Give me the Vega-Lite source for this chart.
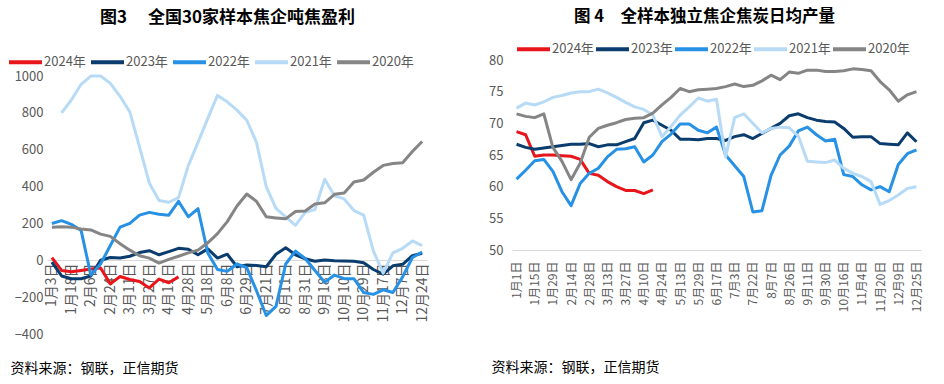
{
  "$schema": "https://vega.github.io/schema/vega-lite/v6.json",
  "background": "white",
  "padding": {"left": 7, "top": 8, "right": 5, "bottom": 2},
  "spacing": 58,
  "config": {
    "font": "Noto Sans CJK SC",
    "view": {"stroke": null},
    "axis": {"labelFont": "Noto Sans CJK SC", "titleFont": "Noto Sans CJK SC", "labelColor": "#595959"},
    "legend": {"labelFont": "Noto Sans CJK SC"},
    "title": {"font": "Noto Sans CJK SC"}
  },
  "datasets": {
    "left": [
      {"d":"1月3日","s":"2024年","v":15},{"d":"1月10日","s":"2024年","v":-55},{"d":"1月18日","s":"2024年","v":-62},{"d":"1月27日","s":"2024年","v":-55},{"d":"2月6日","s":"2024年","v":-47},{"d":"2月15日","s":"2024年","v":-42},{"d":"2月24日","s":"2024年","v":-128},{"d":"3月3日","s":"2024年","v":-88},{"d":"3月11日","s":"2024年","v":-104},{"d":"3月19日","s":"2024年","v":-115},{"d":"3月27日","s":"2024年","v":-150},{"d":"4月3日","s":"2024年","v":-102},{"d":"4月11日","s":"2024年","v":-122},{"d":"4月20日","s":"2024年","v":-90},

      {"d":"1月3日","s":"2023年","v":-10},{"d":"1月10日","s":"2023年","v":-85},{"d":"1月18日","s":"2023年","v":-100},{"d":"1月27日","s":"2023年","v":-100},{"d":"2月6日","s":"2023年","v":-85},{"d":"2月15日","s":"2023年","v":0},{"d":"2月24日","s":"2023年","v":15},{"d":"3月3日","s":"2023年","v":12},{"d":"3月11日","s":"2023年","v":22},{"d":"3月19日","s":"2023年","v":42},{"d":"3月27日","s":"2023年","v":52},{"d":"4月3日","s":"2023年","v":30},{"d":"4月11日","s":"2023年","v":47},{"d":"4月20日","s":"2023年","v":65},{"d":"4月28日","s":"2023年","v":60},{"d":"5月8日","s":"2023年","v":30},{"d":"5月18日","s":"2023年","v":62},{"d":"5月28日","s":"2023年","v":12},{"d":"6月8日","s":"2023年","v":33},{"d":"6月18日","s":"2023年","v":-35},{"d":"6月29日","s":"2023年","v":-25},{"d":"7月10日","s":"2023年","v":-28},{"d":"7月21日","s":"2023年","v":-35},{"d":"8月1日","s":"2023年","v":33},{"d":"8月11日","s":"2023年","v":68},{"d":"8月21日","s":"2023年","v":30},{"d":"8月31日","s":"2023年","v":8},{"d":"9月9日","s":"2023年","v":-5},{"d":"9月18日","s":"2023年","v":2},{"d":"9月29日","s":"2023年","v":-3},{"d":"10月10日","s":"2023年","v":-4},{"d":"10月19日","s":"2023年","v":-5},{"d":"10月29日","s":"2023年","v":-13},{"d":"11月8日","s":"2023年","v":-50},{"d":"11月17日","s":"2023年","v":-75},{"d":"11月27日","s":"2023年","v":-30},{"d":"12月7日","s":"2023年","v":-22},{"d":"12月15日","s":"2023年","v":25},{"d":"12月24日","s":"2023年","v":38},

      {"d":"1月3日","s":"2022年","v":200},{"d":"1月10日","s":"2022年","v":215},{"d":"1月18日","s":"2022年","v":195},{"d":"1月27日","s":"2022年","v":162},{"d":"2月6日","s":"2022年","v":-80},{"d":"2月15日","s":"2022年","v":-20},{"d":"2月24日","s":"2022年","v":80},{"d":"3月3日","s":"2022年","v":180},{"d":"3月11日","s":"2022年","v":200},{"d":"3月19日","s":"2022年","v":245},{"d":"3月27日","s":"2022年","v":260},{"d":"4月3日","s":"2022年","v":250},{"d":"4月11日","s":"2022年","v":245},{"d":"4月20日","s":"2022年","v":320},{"d":"4月28日","s":"2022年","v":236},{"d":"5月8日","s":"2022年","v":280},{"d":"5月18日","s":"2022年","v":40},{"d":"5月28日","s":"2022年","v":-50},{"d":"6月8日","s":"2022年","v":-60},{"d":"6月18日","s":"2022年","v":-20},{"d":"6月29日","s":"2022年","v":-40},{"d":"7月10日","s":"2022年","v":-165},{"d":"7月21日","s":"2022年","v":-300},{"d":"8月1日","s":"2022年","v":-250},{"d":"8月11日","s":"2022年","v":-20},{"d":"8月21日","s":"2022年","v":50},{"d":"8月31日","s":"2022年","v":10},{"d":"9月9日","s":"2022年","v":-55},{"d":"9月18日","s":"2022年","v":-120},{"d":"9月29日","s":"2022年","v":-80},{"d":"10月10日","s":"2022年","v":-100},{"d":"10月19日","s":"2022年","v":-100},{"d":"10月29日","s":"2022年","v":-175},{"d":"11月8日","s":"2022年","v":-185},{"d":"11月17日","s":"2022年","v":-160},{"d":"11月27日","s":"2022年","v":-175},{"d":"12月7日","s":"2022年","v":-90},{"d":"12月15日","s":"2022年","v":15},{"d":"12月24日","s":"2022年","v":45},

      {"d":"1月10日","s":"2021年","v":800},{"d":"1月18日","s":"2021年","v":870},{"d":"1月27日","s":"2021年","v":955},{"d":"2月6日","s":"2021年","v":1000},{"d":"2月15日","s":"2021年","v":1000},{"d":"2月24日","s":"2021年","v":960},{"d":"3月3日","s":"2021年","v":890},{"d":"3月11日","s":"2021年","v":805},{"d":"3月19日","s":"2021年","v":614},{"d":"3月27日","s":"2021年","v":420},{"d":"4月3日","s":"2021年","v":325},{"d":"4月11日","s":"2021年","v":315},{"d":"4月20日","s":"2021年","v":340},{"d":"4月28日","s":"2021年","v":514},{"d":"5月8日","s":"2021年","v":640},{"d":"5月18日","s":"2021年","v":770},{"d":"5月28日","s":"2021年","v":895},{"d":"6月8日","s":"2021年","v":860},{"d":"6月18日","s":"2021年","v":815},{"d":"6月29日","s":"2021年","v":760},{"d":"7月10日","s":"2021年","v":640},{"d":"7月21日","s":"2021年","v":400},{"d":"8月1日","s":"2021年","v":282},{"d":"8月11日","s":"2021年","v":235},{"d":"8月21日","s":"2021年","v":190},{"d":"8月31日","s":"2021年","v":260},{"d":"9月9日","s":"2021年","v":275},{"d":"9月18日","s":"2021年","v":440},{"d":"9月29日","s":"2021年","v":350},{"d":"10月10日","s":"2021年","v":333},{"d":"10月19日","s":"2021年","v":270},{"d":"10月29日","s":"2021年","v":245},{"d":"11月8日","s":"2021年","v":50},{"d":"11月17日","s":"2021年","v":-70},{"d":"11月27日","s":"2021年","v":40},{"d":"12月7日","s":"2021年","v":65},{"d":"12月15日","s":"2021年","v":105},{"d":"12月24日","s":"2021年","v":80},

      {"d":"1月3日","s":"2020年","v":180},{"d":"1月10日","s":"2020年","v":182},{"d":"1月18日","s":"2020年","v":180},{"d":"1月27日","s":"2020年","v":170},{"d":"2月6日","s":"2020年","v":165},{"d":"2月15日","s":"2020年","v":142},{"d":"2月24日","s":"2020年","v":130},{"d":"3月3日","s":"2020年","v":90},{"d":"3月11日","s":"2020年","v":55},{"d":"3月19日","s":"2020年","v":25},{"d":"3月27日","s":"2020年","v":12},{"d":"4月3日","s":"2020年","v":-15},{"d":"4月11日","s":"2020年","v":5},{"d":"4月20日","s":"2020年","v":22},{"d":"4月28日","s":"2020年","v":40},{"d":"5月8日","s":"2020年","v":55},{"d":"5月18日","s":"2020年","v":95},{"d":"5月28日","s":"2020年","v":145},{"d":"6月8日","s":"2020年","v":210},{"d":"6月18日","s":"2020年","v":295},{"d":"6月29日","s":"2020年","v":360},{"d":"7月10日","s":"2020年","v":320},{"d":"7月21日","s":"2020年","v":236},{"d":"8月1日","s":"2020年","v":230},{"d":"8月11日","s":"2020年","v":225},{"d":"8月21日","s":"2020年","v":265},{"d":"8月31日","s":"2020年","v":268},{"d":"9月9日","s":"2020年","v":305},{"d":"9月18日","s":"2020年","v":312},{"d":"9月29日","s":"2020年","v":358},{"d":"10月10日","s":"2020年","v":365},{"d":"10月19日","s":"2020年","v":425},{"d":"10月29日","s":"2020年","v":436},{"d":"11月8日","s":"2020年","v":478},{"d":"11月17日","s":"2020年","v":515},{"d":"11月27日","s":"2020年","v":525},{"d":"12月7日","s":"2020年","v":530},{"d":"12月15日","s":"2020年","v":590},{"d":"12月24日","s":"2020年","v":645}
    ],
    "right": [
      {"d":"1月1日","s":"2024年","v":68.7},{"d":"1月8日","s":"2024年","v":68.2},{"d":"1月15日","s":"2024年","v":64.8},{"d":"1月22日","s":"2024年","v":65.0},{"d":"1月29日","s":"2024年","v":65.0},{"d":"2月7日","s":"2024年","v":64.9},{"d":"2月14日","s":"2024年","v":64.8},{"d":"2月21日","s":"2024年","v":64.3},{"d":"2月28日","s":"2024年","v":62.1},{"d":"3月6日","s":"2024年","v":61.8},{"d":"3月13日","s":"2024年","v":60.8},{"d":"3月20日","s":"2024年","v":60.0},{"d":"3月27日","s":"2024年","v":59.4},{"d":"4月3日","s":"2024年","v":59.4},{"d":"4月10日","s":"2024年","v":58.9},{"d":"4月17日","s":"2024年","v":59.5},

      {"d":"1月1日","s":"2023年","v":66.7},{"d":"1月8日","s":"2023年","v":66.2},{"d":"1月15日","s":"2023年","v":65.9},{"d":"1月22日","s":"2023年","v":66.1},{"d":"1月29日","s":"2023年","v":66.3},{"d":"2月7日","s":"2023年","v":66.5},{"d":"2月14日","s":"2023年","v":66.7},{"d":"2月21日","s":"2023年","v":66.7},{"d":"2月28日","s":"2023年","v":66.8},{"d":"3月6日","s":"2023年","v":66.3},{"d":"3月13日","s":"2023年","v":66.6},{"d":"3月20日","s":"2023年","v":66.6},{"d":"3月27日","s":"2023年","v":67.1},{"d":"4月3日","s":"2023年","v":67.6},{"d":"4月10日","s":"2023年","v":70.1},{"d":"4月17日","s":"2023年","v":70.5},{"d":"4月24日","s":"2023年","v":69.7},{"d":"5月6日","s":"2023年","v":68.9},{"d":"5月13日","s":"2023年","v":67.5},{"d":"5月21日","s":"2023年","v":67.5},{"d":"5月29日","s":"2023年","v":67.4},{"d":"6月8日","s":"2023年","v":67.6},{"d":"6月17日","s":"2023年","v":67.6},{"d":"6月25日","s":"2023年","v":67.3},{"d":"7月3日","s":"2023年","v":67.9},{"d":"7月12日","s":"2023年","v":68.2},{"d":"7月22日","s":"2023年","v":67.6},{"d":"7月30日","s":"2023年","v":68.4},{"d":"8月7日","s":"2023年","v":69.2},{"d":"8月16日","s":"2023年","v":70.0},{"d":"8月26日","s":"2023年","v":71.2},{"d":"9月3日","s":"2023年","v":71.5},{"d":"9月11日","s":"2023年","v":70.9},{"d":"9月21日","s":"2023年","v":70.5},{"d":"9月30日","s":"2023年","v":70.3},{"d":"10月8日","s":"2023年","v":70.2},{"d":"10月16日","s":"2023年","v":69.2},{"d":"10月26日","s":"2023年","v":67.8},{"d":"11月4日","s":"2023年","v":67.9},{"d":"11月12日","s":"2023年","v":67.9},{"d":"11月20日","s":"2023年","v":66.8},{"d":"11月30日","s":"2023年","v":66.7},{"d":"12月9日","s":"2023年","v":66.6},{"d":"12月17日","s":"2023年","v":68.5},{"d":"12月25日","s":"2023年","v":67.1},

      {"d":"1月1日","s":"2022年","v":61.2},{"d":"1月8日","s":"2022年","v":62.6},{"d":"1月15日","s":"2022年","v":64.1},{"d":"1月22日","s":"2022年","v":64.3},{"d":"1月29日","s":"2022年","v":62.4},{"d":"2月7日","s":"2022年","v":59.2},{"d":"2月14日","s":"2022年","v":57.0},{"d":"2月21日","s":"2022年","v":60.5},{"d":"2月28日","s":"2022年","v":62.1},{"d":"3月6日","s":"2022年","v":62.9},{"d":"3月13日","s":"2022年","v":64.7},{"d":"3月20日","s":"2022年","v":65.9},{"d":"3月27日","s":"2022年","v":66.0},{"d":"4月3日","s":"2022年","v":66.3},{"d":"4月10日","s":"2022年","v":63.9},{"d":"4月17日","s":"2022年","v":65.0},{"d":"4月24日","s":"2022年","v":67.1},{"d":"5月6日","s":"2022年","v":68.3},{"d":"5月13日","s":"2022年","v":69.9},{"d":"5月21日","s":"2022年","v":69.9},{"d":"5月29日","s":"2022年","v":68.9},{"d":"6月8日","s":"2022年","v":68.5},{"d":"6月17日","s":"2022年","v":69.4},{"d":"6月25日","s":"2022年","v":65.0},{"d":"7月3日","s":"2022年","v":63.3},{"d":"7月12日","s":"2022年","v":61.6},{"d":"7月22日","s":"2022年","v":56.0},{"d":"7月30日","s":"2022年","v":56.2},{"d":"8月7日","s":"2022年","v":61.8},{"d":"8月16日","s":"2022年","v":65.0},{"d":"8月26日","s":"2022年","v":66.4},{"d":"9月3日","s":"2022年","v":68.8},{"d":"9月11日","s":"2022年","v":69.4},{"d":"9月21日","s":"2022年","v":68.2},{"d":"9月30日","s":"2022年","v":67.2},{"d":"10月8日","s":"2022年","v":67.5},{"d":"10月16日","s":"2022年","v":61.9},{"d":"10月26日","s":"2022年","v":61.6},{"d":"11月4日","s":"2022年","v":60.3},{"d":"11月12日","s":"2022年","v":59.5},{"d":"11月20日","s":"2022年","v":60.0},{"d":"11月30日","s":"2022年","v":59.2},{"d":"12月9日","s":"2022年","v":63.5},{"d":"12月17日","s":"2022年","v":65.2},{"d":"12月25日","s":"2022年","v":65.8},

      {"d":"1月1日","s":"2021年","v":72.4},{"d":"1月8日","s":"2021年","v":73.2},{"d":"1月15日","s":"2021年","v":72.9},{"d":"1月22日","s":"2021年","v":73.4},{"d":"1月29日","s":"2021年","v":74.1},{"d":"2月7日","s":"2021年","v":74.4},{"d":"2月14日","s":"2021年","v":74.8},{"d":"2月21日","s":"2021年","v":75.0},{"d":"2月28日","s":"2021年","v":75.0},{"d":"3月6日","s":"2021年","v":75.4},{"d":"3月13日","s":"2021年","v":74.8},{"d":"3月20日","s":"2021年","v":74.1},{"d":"3月27日","s":"2021年","v":73.3},{"d":"4月3日","s":"2021年","v":72.6},{"d":"4月10日","s":"2021年","v":72.2},{"d":"4月17日","s":"2021年","v":71.3},{"d":"4月24日","s":"2021年","v":67.9},{"d":"5月6日","s":"2021年","v":69.5},{"d":"5月13日","s":"2021年","v":71.3},{"d":"5月21日","s":"2021年","v":72.6},{"d":"5月29日","s":"2021年","v":74.0},{"d":"6月8日","s":"2021年","v":73.5},{"d":"6月17日","s":"2021年","v":73.8},{"d":"6月25日","s":"2021年","v":64.7},{"d":"7月3日","s":"2021年","v":70.9},{"d":"7月12日","s":"2021年","v":71.5},{"d":"7月22日","s":"2021年","v":70.0},{"d":"7月30日","s":"2021年","v":68.5},{"d":"8月7日","s":"2021年","v":69.2},{"d":"8月16日","s":"2021年","v":69.4},{"d":"8月26日","s":"2021年","v":69.3},{"d":"9月3日","s":"2021年","v":68.0},{"d":"9月11日","s":"2021年","v":64.0},{"d":"9月21日","s":"2021年","v":63.9},{"d":"9月30日","s":"2021年","v":63.8},{"d":"10月8日","s":"2021年","v":64.2},{"d":"10月16日","s":"2021年","v":62.9},{"d":"10月26日","s":"2021年","v":62.1},{"d":"11月4日","s":"2021年","v":61.6},{"d":"11月12日","s":"2021年","v":60.8},{"d":"11月20日","s":"2021年","v":57.2},{"d":"11月30日","s":"2021年","v":57.8},{"d":"12月9日","s":"2021年","v":58.7},{"d":"12月17日","s":"2021年","v":59.7},{"d":"12月25日","s":"2021年","v":60.0},

      {"d":"1月1日","s":"2020年","v":71.5},{"d":"1月8日","s":"2020年","v":71.1},{"d":"1月15日","s":"2020年","v":70.9},{"d":"1月22日","s":"2020年","v":71.5},{"d":"1月29日","s":"2020年","v":66.2},{"d":"2月7日","s":"2020年","v":64.0},{"d":"2月14日","s":"2020年","v":61.1},{"d":"2月21日","s":"2020年","v":63.7},{"d":"2月28日","s":"2020年","v":67.8},{"d":"3月6日","s":"2020年","v":69.2},{"d":"3月13日","s":"2020年","v":69.7},{"d":"3月20日","s":"2020年","v":70.1},{"d":"3月27日","s":"2020年","v":70.6},{"d":"4月3日","s":"2020年","v":70.8},{"d":"4月10日","s":"2020年","v":70.9},{"d":"4月17日","s":"2020年","v":71.6},{"d":"4月24日","s":"2020年","v":72.9},{"d":"5月6日","s":"2020年","v":74.1},{"d":"5月13日","s":"2020年","v":75.5},{"d":"5月21日","s":"2020年","v":75.0},{"d":"5月29日","s":"2020年","v":75.3},{"d":"6月8日","s":"2020年","v":75.4},{"d":"6月17日","s":"2020年","v":75.5},{"d":"6月25日","s":"2020年","v":75.8},{"d":"7月3日","s":"2020年","v":76.2},{"d":"7月12日","s":"2020年","v":75.8},{"d":"7月22日","s":"2020年","v":76.0},{"d":"7月30日","s":"2020年","v":76.7},{"d":"8月7日","s":"2020年","v":77.6},{"d":"8月16日","s":"2020年","v":76.9},{"d":"8月26日","s":"2020年","v":78.1},{"d":"9月3日","s":"2020年","v":77.9},{"d":"9月11日","s":"2020年","v":78.4},{"d":"9月21日","s":"2020年","v":78.4},{"d":"9月30日","s":"2020年","v":78.2},{"d":"10月8日","s":"2020年","v":78.2},{"d":"10月16日","s":"2020年","v":78.3},{"d":"10月26日","s":"2020年","v":78.6},{"d":"11月4日","s":"2020年","v":78.5},{"d":"11月12日","s":"2020年","v":78.3},{"d":"11月20日","s":"2020年","v":76.6},{"d":"11月30日","s":"2020年","v":75.3},{"d":"12月9日","s":"2020年","v":73.5},{"d":"12月17日","s":"2020年","v":74.5},{"d":"12月25日","s":"2020年","v":75.0}
    ]
  },
  "hconcat": [
    {
      "width": 380,
      "height": 274,
      "data": {"name": "left"},
      "title": {"text": "图3　 全国30家样本焦企吨焦盈利", "fontSize": 17, "fontWeight": "bold", "color": "black", "anchor": "start", "frame": "group", "dx": 53, "offset": 17},
      "mark": {"type": "line", "strokeWidth": 3, "strokeJoin": "round"},
      "encoding": {
        "x": {
          "field": "d", "type": "ordinal",
          "scale": {"type": "point", "padding": 0.5, "domain": ["1月3日","1月10日","1月18日","1月27日","2月6日","2月15日","2月24日","3月3日","3月11日","3月19日","3月27日","4月3日","4月11日","4月20日","4月28日","5月8日","5月18日","5月28日","6月8日","6月18日","6月29日","7月10日","7月21日","8月1日","8月11日","8月21日","8月31日","9月9日","9月18日","9月29日","10月10日","10月19日","10月29日","11月8日","11月17日","11月27日","12月7日","12月15日","12月24日"]},
          "axis": {
            "values": ["1月3日","1月18日","2月6日","2月24日","3月11日","3月27日","4月11日","4月28日","5月18日","6月8日","6月29日","7月21日","8月11日","8月31日","9月18日","10月10日","10月29日","11月17日","12月7日","12月24日"],
            "labelAngle": -90, "labelFontSize": 14, "labelPadding": 3, "labelOverlap": false,
            "offset": -74, "ticks": false, "grid": false,
            "domainColor": "#d9d9d9", "domainWidth": 1,
            "title": "资料来源：钢联，正信期货", "titleFontSize": 14, "titleFontWeight": "normal", "titleColor": "black",
            "titleAlign": "left", "titleAnchor": "start", "titleBaseline": "middle", "titleX": -37, "titleY": 108
          }
        },
        "y": {
          "field": "v", "type": "quantitative",
          "scale": {"domain": [-400, 1087], "nice": false, "zero": false},
          "axis": {"values": [-400,-200,0,200,400,600,800,1000], "format": "d", "grid": false, "domain": false, "ticks": false, "labelFontSize": 13, "labelPadding": 4, "title": null}
        },
        "color": {
          "field": "s", "type": "nominal",
          "scale": {"domain": ["2024年","2023年","2022年","2021年","2020年"], "range": ["#e8151b","#0a3d6e","#2791e5","#b7dbf6","#858585"]},
          "legend": {"orient": "none", "legendX": -40, "legendY": -16.5, "direction": "horizontal", "title": null, "symbolType": "stroke", "symbolSize": 1089, "symbolStrokeWidth": 4, "labelFontSize": 13, "labelColor": "#595959", "labelOffset": 0, "columnPadding": -3}
        }
      }
    },
    {
      "width": 409,
      "height": 190,
      "data": {"name": "right"},
      "title": {"text": "图 4　全样本独立焦企焦炭日均产量", "fontSize": 16.5, "fontWeight": "bold", "color": "black", "anchor": "middle", "frame": "group", "dx": -12, "offset": 5},
      "mark": {"type": "line", "strokeWidth": 3, "strokeJoin": "round"},
      "encoding": {
        "x": {
          "field": "d", "type": "ordinal",
          "scale": {"type": "point", "padding": 0.5, "domain": ["1月1日","1月8日","1月15日","1月22日","1月29日","2月7日","2月14日","2月21日","2月28日","3月6日","3月13日","3月20日","3月27日","4月3日","4月10日","4月17日","4月24日","5月6日","5月13日","5月21日","5月29日","6月8日","6月17日","6月25日","7月3日","7月12日","7月22日","7月30日","8月7日","8月16日","8月26日","9月3日","9月11日","9月21日","9月30日","10月8日","10月16日","10月26日","11月4日","11月12日","11月20日","11月30日","12月9日","12月17日","12月25日"]},
          "axis": {
            "values": ["1月1日","1月15日","1月29日","2月14日","2月28日","3月13日","3月27日","4月10日","4月24日","5月13日","5月29日","6月17日","7月3日","7月22日","8月7日","8月26日","9月11日","9月30日","10月16日","11月4日","11月20日","12月9日","12月25日"],
            "labelAngle": -90, "labelFontSize": 12, "labelPadding": 11, "labelOverlap": false,
            "ticks": false, "grid": false,
            "domainColor": "#d9d9d9", "domainWidth": 1,
            "title": "资料来源：钢联，正信期货", "titleFontSize": 14, "titleFontWeight": "normal", "titleColor": "black",
            "titleAlign": "left", "titleAnchor": "start", "titleBaseline": "middle", "titleX": -21, "titleY": 117
          }
        },
        "y": {
          "field": "v", "type": "quantitative",
          "scale": {"domain": [50, 80], "nice": false, "zero": false},
          "axis": {"values": [50,55,60,65,70,75,80], "grid": false, "domain": false, "ticks": false, "labelFontSize": 13, "labelPadding": 9, "title": null}
        },
        "color": {
          "field": "s", "type": "nominal",
          "scale": {"domain": ["2024年","2023年","2022年","2021年","2020年"], "range": ["#e8151b","#0a3d6e","#2791e5","#b7dbf6","#858585"]},
          "legend": {"orient": "none", "legendX": 3, "legendY": -29.5, "direction": "horizontal", "title": null, "symbolType": "stroke", "symbolSize": 1089, "symbolStrokeWidth": 4, "labelFontSize": 13, "labelColor": "#595959", "labelOffset": 0, "columnPadding": -6}
        }
      }
    }
  ],
  "resolve": {"scale": {"color": "independent", "x": "independent", "y": "independent"}, "legend": {"color": "independent"}}
}
